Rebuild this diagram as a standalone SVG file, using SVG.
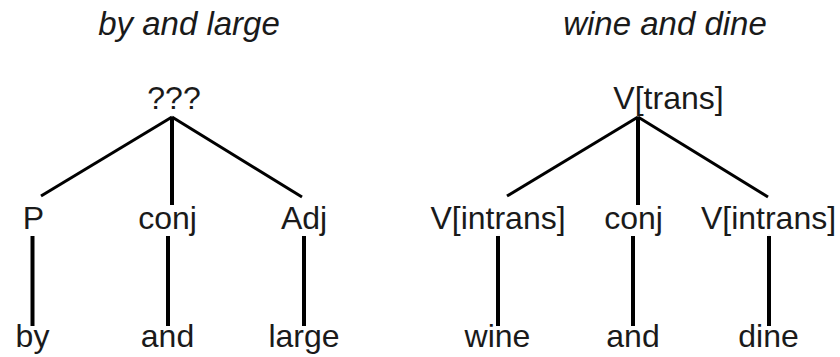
<svg xmlns="http://www.w3.org/2000/svg" width="840" height="357" viewBox="0 0 840 357">
  <style>
    .lbl { font-family: "Liberation Sans", Arial, sans-serif; font-size: 32px; fill: #1a1a1a; text-anchor: middle; }
    .title { font-style: italic; font-size: 33px; }
    .edge { stroke: #000; stroke-width: 3; stroke-linecap: butt; fill: none; }
    .stem { stroke: #000; stroke-width: 4; fill: none; }
  </style>
  <rect width="840" height="357" fill="#fff"/>

  <!-- titles -->
  <text class="lbl title" x="189" y="35">by and large</text>
  <text class="lbl title" x="665" y="35">wine and dine</text>

  <!-- connectors -->
  <g id="connectors">
    <!-- left tree -->
    <line class="edge" x1="172" y1="117" x2="41" y2="196"/>
    <line class="stem" x1="172" y1="117" x2="172" y2="205"/>
    <line class="edge" x1="172" y1="117" x2="302" y2="197"/>
    <line class="stem" x1="32.5" y1="236" x2="32.5" y2="326"/>
    <line class="stem" x1="168" y1="236" x2="168" y2="326"/>
    <line class="stem" x1="304" y1="236" x2="304" y2="326"/>
    <!-- right tree -->
    <line class="edge" x1="638" y1="117" x2="507" y2="196"/>
    <line class="stem" x1="638" y1="117" x2="638" y2="205"/>
    <line class="edge" x1="638" y1="117" x2="768" y2="197"/>
    <line class="stem" x1="498" y1="236" x2="498" y2="326"/>
    <line class="stem" x1="633" y1="236" x2="633" y2="326"/>
    <line class="stem" x1="769" y1="236" x2="769" y2="326"/>
  </g>

  <!-- left tree nodes -->
  <g id="n-root-left"><text class="lbl" x="174" y="109">???</text></g>
  <g id="n-p"><text class="lbl" x="33.5" y="229">P</text></g>
  <g id="n-conj-left"><text class="lbl" x="167.5" y="229">conj</text></g>
  <g id="n-adj"><text class="lbl" x="304" y="229">Adj</text></g>
  <g id="n-by"><text class="lbl" x="32.5" y="347">by</text></g>
  <g id="n-and-left"><text class="lbl" x="167.5" y="347">and</text></g>
  <g id="n-large"><text class="lbl" x="304" y="347">large</text></g>

  <!-- right tree nodes -->
  <g id="n-root-right"><text class="lbl" x="668.5" y="109">V[trans]</text></g>
  <g id="n-vintrans-left"><text class="lbl" x="498" y="229">V[intrans]</text></g>
  <g id="n-conj-right"><text class="lbl" x="633.5" y="229">conj</text></g>
  <g id="n-vintrans-right"><text class="lbl" x="768.5" y="229">V[intrans]</text></g>
  <g id="n-wine"><text class="lbl" x="497.5" y="347">wine</text></g>
  <g id="n-and-right"><text class="lbl" x="633" y="347">and</text></g>
  <g id="n-dine"><text class="lbl" x="768.5" y="347">dine</text></g>
</svg>
